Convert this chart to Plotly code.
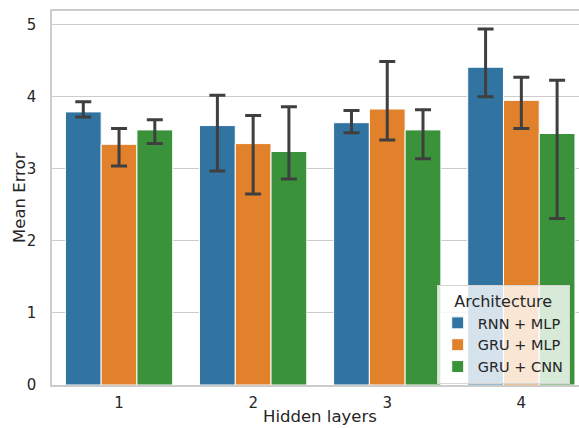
import plotly.graph_objects as go

categories = ["1", "2", "3", "4"]
series_names = ["RNN + MLP", "GRU + MLP", "GRU + CNN"]
colors = ["#3274a1", "#e1812c", "#3a923a"]

means = {
    "RNN + MLP": [3.79, 3.60, 3.64, 4.41],
    "GRU + MLP": [3.34, 3.35, 3.83, 3.95],
    "GRU + CNN": [3.54, 3.24, 3.54, 3.49],
}
upper = {
    "RNN + MLP": [3.93, 4.02, 3.81, 4.94],
    "GRU + MLP": [3.56, 3.74, 4.49, 4.27],
    "GRU + CNN": [3.68, 3.86, 3.82, 4.23],
}
lower = {
    "RNN + MLP": [3.72, 2.97, 3.50, 4.00],
    "GRU + MLP": [3.04, 2.65, 3.40, 3.56],
    "GRU + CNN": [3.35, 2.86, 3.14, 2.31],
}

fig = go.Figure()
for name, col in zip(series_names, colors):
    m = means[name]
    fig.add_trace(go.Bar(
        x=categories, y=m, name=name,
        marker=dict(color=col, line=dict(color="white", width=1)),
        error_y=dict(type="data", symmetric=False,
                     array=[u - v for u, v in zip(upper[name], m)],
                     arrayminus=[v - l for v, l in zip(m, lower[name])],
                     color="#3f3f3f", thickness=3, width=8),
    ))

font = "DejaVu Sans"
txt = "#262626"
fig.update_layout(
    width=579, height=428,
    margin=dict(l=52, r=0, t=11, b=43, autoexpand=False),
    paper_bgcolor="white", plot_bgcolor="white",
    font=dict(family=font, size=15, color=txt),
    barmode="group", bargap=0.2, bargroupgap=0,
    legend=dict(
        title=dict(text="Architecture", font=dict(size=16, color=txt), side="top center"),
        x=0.73, y=0.267, xanchor="left", yanchor="top",
        bgcolor="rgba(255,255,255,0.8)", bordercolor="#d6d6d6", borderwidth=1,
        font=dict(size=14.5, color=txt),
        itemwidth=30, tracegroupgap=0,
    ),
    showlegend=True,
)
fig.update_xaxes(
    type="category", range=[-0.5, 3.43], automargin=False,
    showgrid=False, showline=True, linecolor="#cccccc", linewidth=1.5, mirror=True,
    ticks="", ticklabelstandoff=3, tickfont=dict(size=15, color=txt),
)
fig.update_yaxes(
    range=[0, 5.19], tickvals=[0, 1, 2, 3, 4, 5], automargin=False,
    showgrid=True, gridcolor="#cccccc", gridwidth=1,
    showline=True, linecolor="#cccccc", linewidth=1.5,
    zeroline=False, ticks="", ticklabelstandoff=11,
    tickfont=dict(size=15, color=txt),
)
fig.add_annotation(
    text="Hidden layers", xref="paper", yref="paper",
    x=0.5085, y=0, yshift=-43, xanchor="center", yanchor="bottom",
    showarrow=False, font=dict(size=16.5, color=txt, family=font),
)
fig.add_annotation(
    text="Mean Error", xref="paper", yref="paper", textangle=-90,
    x=0, y=0.5, xshift=-33, xanchor="center", yanchor="middle",
    showarrow=False, font=dict(size=16.5, color=txt, family=font),
)
fig.write_html("out.html", config={"displayModeBar": False},
               post_script="document.body.style.margin='0';document.body.style.overflow='hidden';")
